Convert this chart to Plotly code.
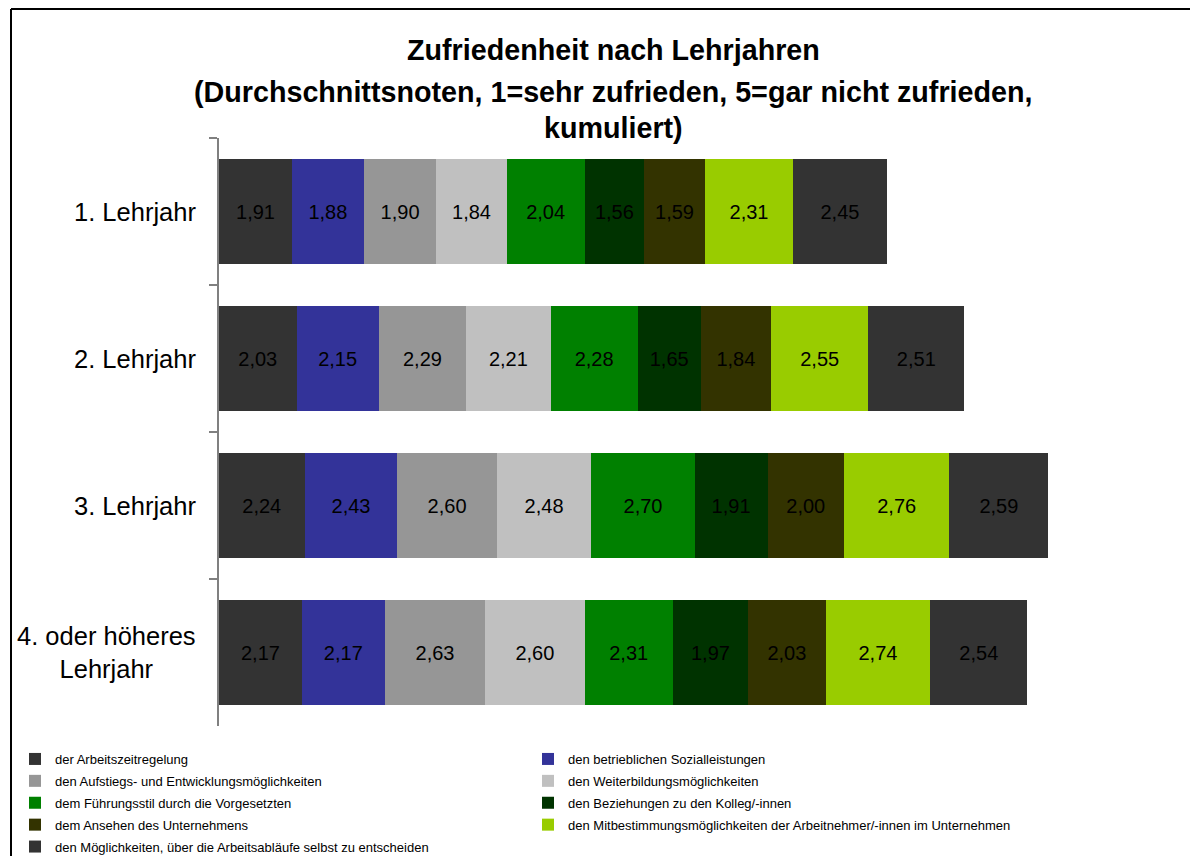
import plotly.graph_objects as go

categories = ["1. Lehrjahr", "2. Lehrjahr", "3. Lehrjahr", "4. oder höheres<br>Lehrjahr"]

series_names = [
    "der Arbeitszeitregelung",
    "den betrieblichen Sozialleistungen",
    "den Aufstiegs- und Entwicklungsmöglichkeiten",
    "den Weiterbildungsmöglichkeiten",
    "dem Führungsstil durch die Vorgesetzten",
    "den Beziehungen zu den Kolleg/-innen",
    "dem Ansehen des Unternehmens",
    "den Mitbestimmungsmöglichkeiten der Arbeitnehmer/-innen im Unternehmen",
    "den Möglichkeiten, über die Arbeitsabläufe selbst zu entscheiden",
]

arbeitszeit = [1.91, 2.03, 2.24, 2.17]
sozialleistungen = [1.88, 2.15, 2.43, 2.17]
aufstieg = [1.90, 2.29, 2.60, 2.63]
weiterbildung = [1.84, 2.21, 2.48, 2.60]
fuehrungsstil = [2.04, 2.28, 2.70, 2.31]
beziehungen = [1.56, 1.65, 1.91, 1.97]
ansehen = [1.59, 1.84, 2.00, 2.03]
mitbestimmung = [2.31, 2.55, 2.76, 2.74]
arbeitsablaeufe = [2.45, 2.51, 2.59, 2.54]

series_values = [arbeitszeit, sozialleistungen, aufstieg, weiterbildung, fuehrungsstil,
                 beziehungen, ansehen, mitbestimmung, arbeitsablaeufe]

colors = ["#333333", "#333399", "#969696", "#C0C0C0", "#008000",
          "#003300", "#333300", "#99CC00", "#333333"]

OFF = 8  # page body margin
W, H = 1198 - 2 * OFF, 864 - 2 * OFF
L = 219 - OFF
T = 138 - OFF
R = W - (1174 - OFF)
B = H - (726 - OFF)
pw, ph = W - L - R, H - T - B

def px(xr):
    return (xr - OFF - L) / pw

def py(yr):
    return (H - B - (yr - OFF)) / ph

FONT = "Liberation Sans, Arial, sans-serif"

fig = go.Figure()
for i, (name, vals, col) in enumerate(zip(series_names, series_values, colors)):
    fig.add_trace(go.Bar(
        y=categories, x=vals, name=name, orientation="h",
        marker=dict(color=col, line=dict(width=0)),
        texttemplate="%{x:.2f}", textposition="inside", insidetextanchor="middle",
        textangle=0, constraintext="none",
        textfont=dict(family=FONT, size=20, color="#000000"),
        legend="legend" if i % 2 == 0 else "legend2",
        legendgroup=name,
    ))

annotations = []
for c in categories:
    annotations.append(dict(
        x=0, xref="paper", y=c, yref="y", xanchor="right", yanchor="middle",
        xshift=-21, align="center", showarrow=False, text=c,
        font=dict(family=FONT, size=25.5, color="#000000"),
    ))

title_lines = [
    "Zufriedenheit nach Lehrjahren",
    "(Durchschnittsnoten, 1=sehr zufrieden, 5=gar nicht zufrieden,",
    "kumuliert)",
]
title_y = [50, 92, 128]
for t, yy in zip(title_lines, title_y):
    annotations.append(dict(
        x=px(613), xref="paper", y=py(yy), yref="paper",
        xanchor="center", yanchor="middle", showarrow=False,
        text="<b>" + t + "</b>",
        font=dict(family=FONT, size=28.7, color="#000000"),
    ))

legend_common = dict(
    orientation="v", yanchor="top", xanchor="left",
    font=dict(family=FONT, size=13, color="#000000"),
    traceorder="grouped", tracegroupgap=2,
    itemclick=False, itemdoubleclick=False,
    bgcolor="rgba(0,0,0,0)", borderwidth=0,
)

fig.update_layout(
    width=W, height=H,
    margin=dict(l=L, r=R, t=T, b=B, autoexpand=False),
    paper_bgcolor="white", plot_bgcolor="white",
    barmode="stack", bargap=0.286,
    separators=",.",
    showlegend=True,
    legend=dict(x=px(15), y=py(744), **legend_common),
    legend2=dict(x=px(528), y=py(744), **legend_common),
    xaxis=dict(visible=False, range=[0, 25], fixedrange=True),
    yaxis=dict(
        autorange="reversed", showticklabels=False, showgrid=False,
        showline=True, linecolor="#808080", linewidth=2,
        ticks="outside", tickson="boundaries", ticklen=8, tickcolor="#808080", tickwidth=2,
        zeroline=False, fixedrange=True,
    ),
    annotations=annotations,
    shapes=[
        dict(type="line", xref="paper", yref="paper", x0=px(11), x1=px(1198), y0=py(9), y1=py(9),
             line=dict(color="#000000", width=2)),
        dict(type="line", xref="paper", yref="paper", x0=px(11), x1=px(11), y0=py(9), y1=py(864),
             line=dict(color="#000000", width=2)),
    ],
)

fig.write_html("out.html")
